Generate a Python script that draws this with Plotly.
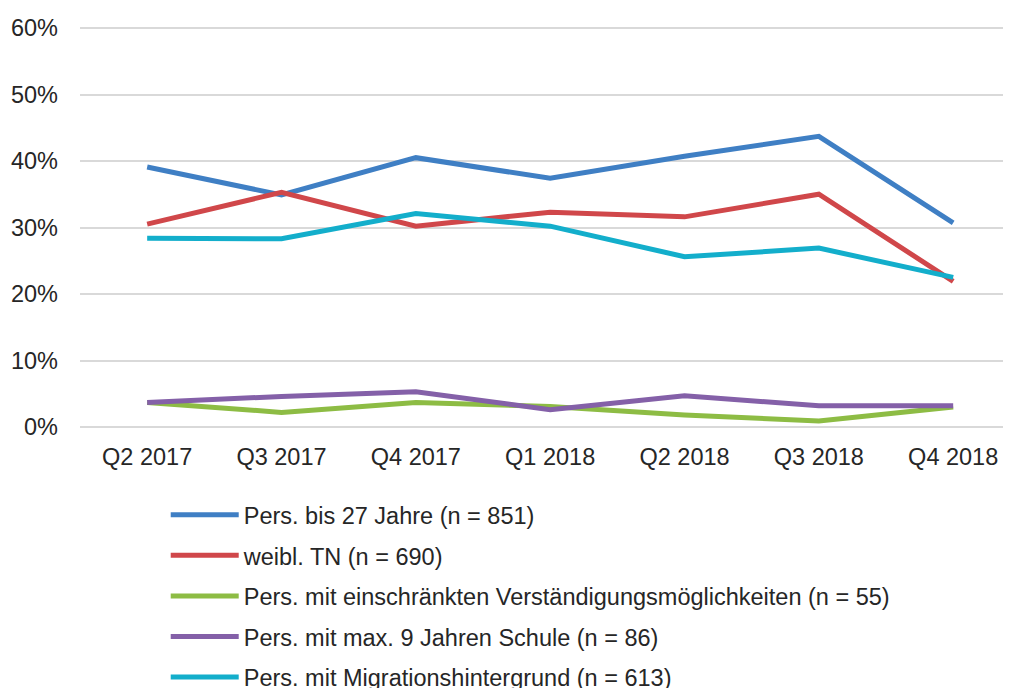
import plotly.graph_objects as go

quarters = ["Q2 2017", "Q3 2017", "Q4 2017", "Q1 2018", "Q2 2018", "Q3 2018", "Q4 2018"]

bis27 = [0.391, 0.349, 0.405, 0.374, 0.407, 0.437, 0.307]
weibl = [0.305, 0.353, 0.302, 0.323, 0.316, 0.350, 0.219]
einschr = [0.037, 0.022, 0.037, 0.031, 0.018, 0.009, 0.030]
schule = [0.037, 0.046, 0.053, 0.026, 0.047, 0.032, 0.032]
migration = [0.284, 0.283, 0.321, 0.302, 0.256, 0.269, 0.225]

names = [
    "Pers. bis 27 Jahre (n = 851)",
    "weibl. TN (n = 690)",
    "Pers. mit einschränkten Verständigungsmöglichkeiten (n = 55)",
    "Pers. mit max. 9 Jahren Schule (n = 86)",
    "Pers. mit Migrationshintergrund (n = 613)",
]
series = [bis27, weibl, einschr, schule, migration]
colors = ["#3F7FC4", "#D0474A", "#8DBC44", "#8460A8", "#13AECB"]

fig = go.Figure()
for i, (nm, vals, col) in enumerate(zip(names, series, colors)):
    fig.add_trace(go.Scatter(
        x=quarters, y=vals, name=nm, mode="lines",
        line=dict(color=col, width=5),
        legendgroup=f"g{i}",
    ))

fig.update_layout(
    width=1011, height=688,
    margin=dict(l=72, r=0, t=18, b=267, autoexpand=False),
    paper_bgcolor="white", plot_bgcolor="white",
    font=dict(family="Liberation Sans, Arial, sans-serif", size=23.5, color="#262626"),
    showlegend=True,
    legend=dict(
        yref="container", y=0.295, yanchor="top",
        xref="container", x=0.156, xanchor="left",
        font=dict(size=23.5, color="#262626"),
        tracegroupgap=7,
        itemwidth=68,
        bgcolor="rgba(0,0,0,0)",
    ),
    xaxis=dict(
        type="category", range=[-0.5, 6.49],
        showgrid=False, showline=False, zeroline=False,
        ticks="", ticklabelstandoff=11, tickangle=0,
        tickfont=dict(size=23.5, color="#262626"),
    ),
    yaxis=dict(
        range=[-0.003, 0.603], tickvals=[0, 0.1, 0.2, 0.3, 0.4, 0.5, 0.6],
        tickformat=".0%",
        showgrid=True, gridcolor="#D9D9D9", gridwidth=1.5,
        zeroline=False, showline=False,
        ticks="", ticklabelstandoff=21,
        tickfont=dict(size=23.5, color="#262626"),
    ),
)

fig.write_html("out.html")
